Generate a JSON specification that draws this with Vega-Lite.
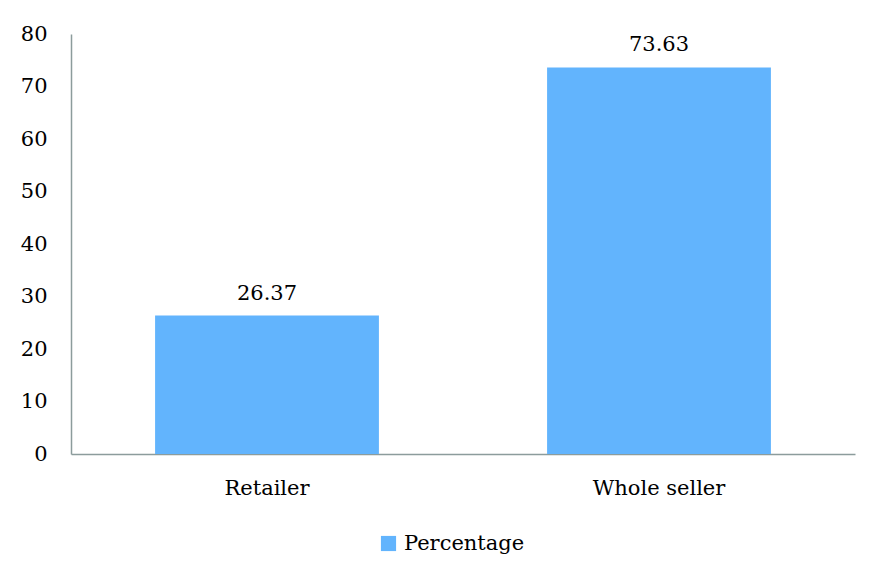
{
  "$schema": "https://vega.github.io/schema/vega-lite/v6.json",
  "width": 784,
  "height": 420,
  "autosize": {"type": "none"},
  "padding": {"left": 71, "top": 34, "right": 27, "bottom": 121},
  "background": "white",
  "config": {
    "view": {"stroke": null},
    "font": "DejaVu Serif",
    "axis": {"labelFont": "DejaVu Serif", "labelColor": "black", "grid": false, "ticks": false, "domainColor": "#8C9C9C", "domainWidth": 1.5},
    "legend": {"labelFont": "DejaVu Serif", "labelColor": "black"}
  },
  "data": {
    "values": [
      {"category": "Retailer", "value": 26.37, "series": "Percentage"},
      {"category": "Whole seller", "value": 73.63, "series": "Percentage"}
    ]
  },
  "encoding": {
    "x": {
      "field": "category", "type": "nominal", "sort": null,
      "scale": {"paddingInner": 0, "paddingOuter": 0},
      "axis": {"title": null, "labelAngle": 0, "labelFontSize": 21, "labelPadding": 23}
    },
    "y": {
      "field": "value", "type": "quantitative",
      "scale": {"domain": [0, 80], "nice": false},
      "axis": {"title": null, "values": [0, 10, 20, 30, 40, 50, 60, 70, 80], "labelFontSize": 21, "labelPadding": 24}
    }
  },
  "layer": [
    {
      "mark": {"type": "bar", "width": {"band": 0.571}},
      "encoding": {
        "color": {
          "field": "series", "type": "nominal",
          "scale": {"range": ["#62B4FD"]},
          "legend": {"title": null, "orient": "none", "legendX": 307, "legendY": 499, "labelFontSize": 21, "symbolType": "square", "symbolSize": 230, "symbolStrokeWidth": 0, "labelOffset": 5}
        }
      }
    },
    {
      "mark": {"type": "text", "baseline": "bottom", "dy": -12, "fontSize": 21, "color": "black", "font": "DejaVu Serif"},
      "encoding": {"text": {"field": "value", "type": "quantitative", "format": ".2f"}}
    }
  ]
}
